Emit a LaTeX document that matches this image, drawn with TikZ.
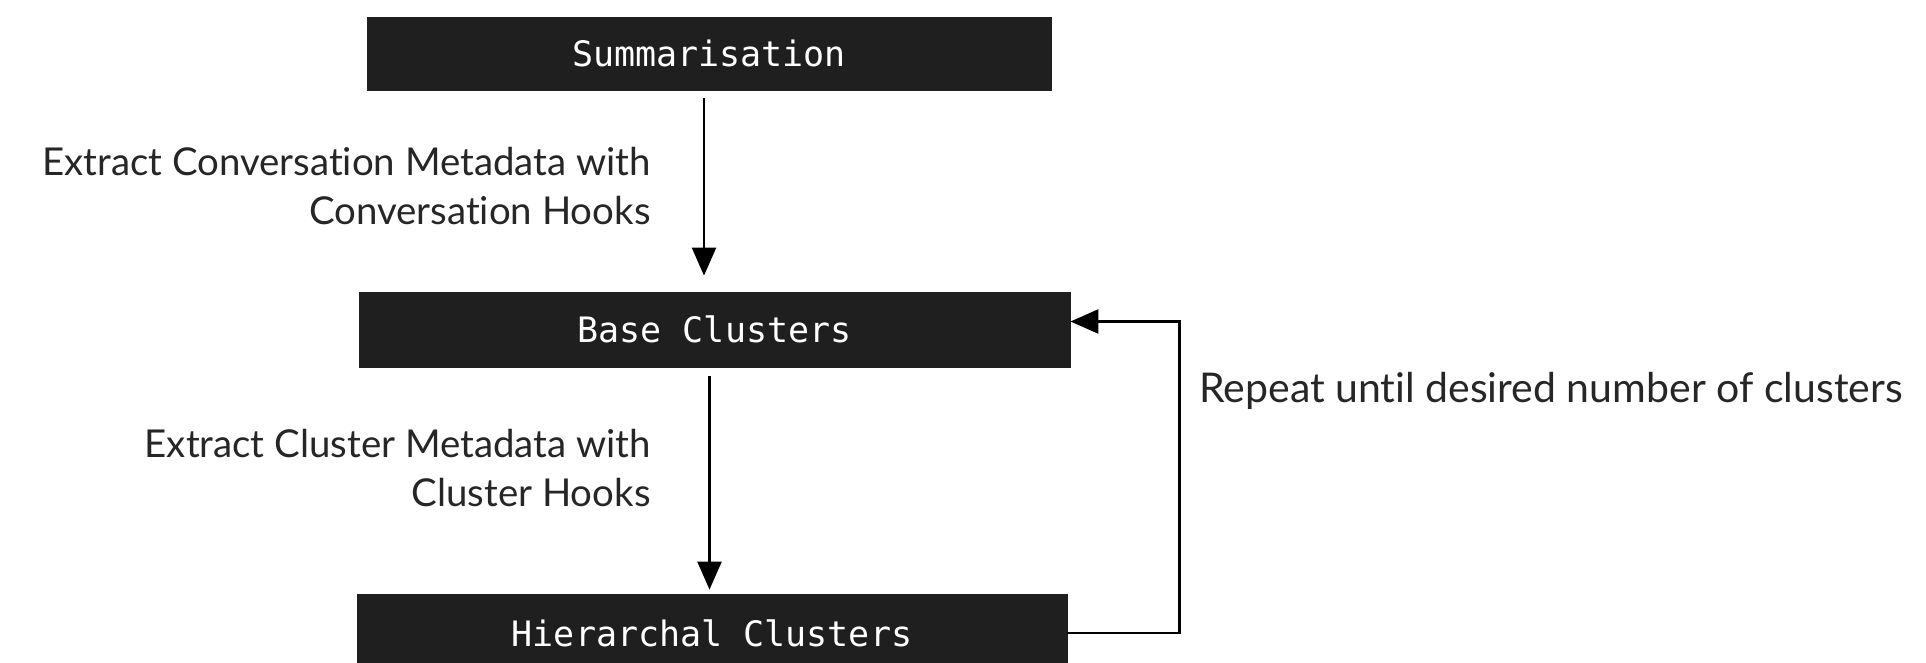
\documentclass[tikz,border=0pt]{standalone}
\usepackage{fontspec}
\setmainfont[Ligatures=NoCommon]{Lato}
\newfontfamily\boxfont{DejaVu Sans Mono}
\usetikzlibrary{arrows.meta,calc}

\tikzset{
  stage/.style={fill=black!88, draw=black!88, text=white, font=\boxfont\fontsize{17.5}{21}\selectfont, inner sep=0pt},
  flow/.style={line width=1.2pt, -{Triangle[length=14pt,width=12pt]}},
  note/.style={font=\fontsize{19.2}{24.5}\selectfont, text=black!85, align=right, inner sep=0pt}
}

\begin{document}
\begin{tikzpicture}[x=0.5pt,y=-0.5pt]
  \useasboundingbox (0,0) rectangle (1926,663);
  \clip (0,0) rectangle (1926,663);
  \fill[white] (0,0) rectangle (1926,663);

  \node[stage, minimum width=342pt, minimum height=36.5pt] (summ) at (709,53.5) {Summarisation};
  \node[stage, minimum width=355.5pt, minimum height=37.5pt] (base) at (714.5,329.5) {Base Clusters};
  \node[stage, minimum width=355pt, minimum height=39pt] (hier) at (712,633) {Hierarchal Clusters};

  \draw[flow, shorten <=4pt, shorten >=8pt] ($(summ.south)+(-5,0)$) -- ($(summ.south |- base.north)+(-5,0)$);
  \draw[flow, shorten <=4.5pt, shorten >=2pt] ($(base.south)+(-5,0)$) -- ($(base.south |- hier.north)+(-5,0)$);
  \draw[flow] (hier.east) -- ++(112,0) |- ($(base.east)+(0,-8)$);

  \node[note, anchor=east] (conv) at (651,186) {Extract Conversation Metadata with\\Conversation Hooks};
  \node[note, anchor=east] (clus) at (651,468) {Extract Cluster Metadata with\\Cluster Hooks};
  \node[note, anchor=west, align=left, font=\fontsize{20.5}{24.5}\selectfont] (rep) at (1199,391) {Repeat until desired number of clusters};
\end{tikzpicture}
\end{document}
